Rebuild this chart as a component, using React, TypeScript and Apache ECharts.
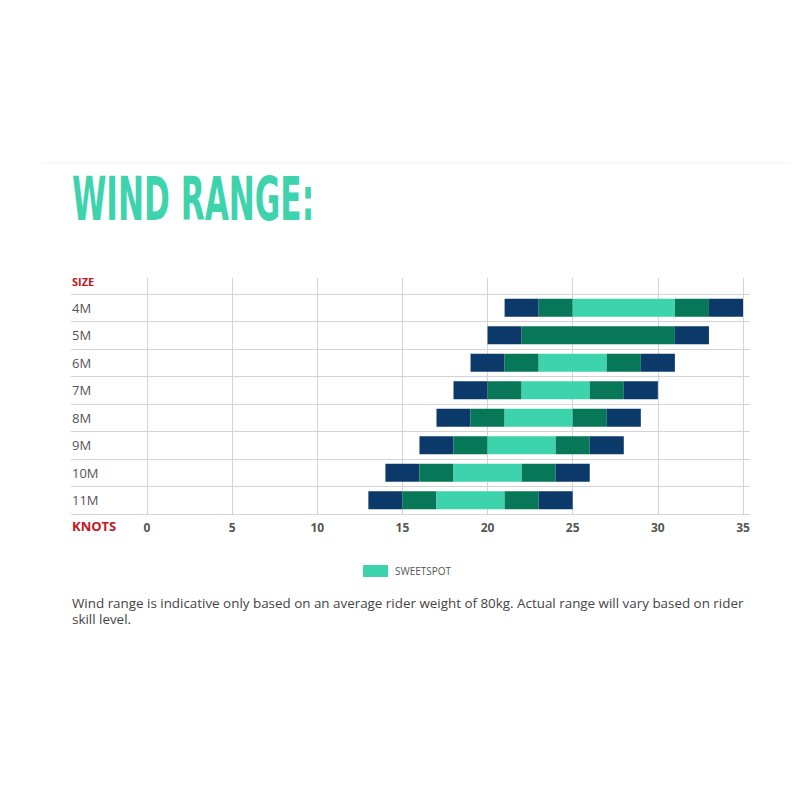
import React, { useEffect, useRef } from 'react'
import * as echarts from 'echarts'

// kite sizes, top to bottom
const sizes = ['4M', '5M', '6M', '7M', '8M', '9M', '10M', '11M']

// wind range boundaries in knots for each size
const minWind = [21, 20, 19, 18, 17, 16, 14, 13]
const greenFrom = [23, 22, 21, 20, 19, 18, 16, 15]
const sweetFrom = [25, 31, 23, 22, 21, 20, 18, 17]
const sweetTo = [31, 31, 27, 26, 25, 24, 22, 21]
const greenTo = [33, 31, 29, 28, 27, 26, 24, 23]
const maxWind = [35, 33, 31, 30, 29, 28, 26, 25]

const knotTicks = [0, 5, 10, 15, 20, 25, 30, 35]

const noteLines = [
  'Wind range is indicative only based on an average rider weight of 80kg. Actual range will vary based on rider',
  'skill level.'
]

const BLUE = '#0b3a6a'
const GREEN = '#067757'
const SWEET = '#3dd3ad'
const RED = '#c3161c'
const FONT = '"Open Sans", "DejaVu Sans", sans-serif'

const diff = (a: number[], b: number[]) => a.map((v, i) => v - b[i])

const App: React.FC = () => {
  const chartRef = useRef<HTMLDivElement>(null)

  useEffect(() => {
    if (!chartRef.current) return
    const chart = echarts.init(chartRef.current, undefined, { renderer: 'svg' })

    const bar = (name: string, data: number[], color: string) => ({
      name,
      type: 'bar',
      stack: 'wind',
      xAxisIndex: 2,
      yAxisIndex: 2,
      barWidth: 18,
      data,
      itemStyle: { color },
      emphasis: { disabled: true }
    })

    const option: any = {
      animation: false,
      backgroundColor: '#fff',
      textStyle: { fontFamily: FONT },
      grid: [
        // row lines, they run under the size labels
        { left: 71, right: 50, top: 294, bottom: 287 },
        // knot lines and labels, they reach up to the SIZE header
        { left: 147, right: 57, top: 278, bottom: 287 },
        // bars
        { left: 147, right: 57, top: 294, bottom: 287 }
      ],
      xAxis: [
        { gridIndex: 0, type: 'value', min: 0, max: 1, show: false },
        {
          gridIndex: 1,
          type: 'value',
          min: knotTicks[0],
          max: knotTicks[knotTicks.length - 1],
          interval: 5,
          axisLine: { show: false },
          axisTick: { show: false },
          axisLabel: { color: '#555', fontSize: 12, fontWeight: 'bold', margin: 7, fontFamily: FONT },
          splitLine: { show: true, lineStyle: { color: '#d4d4d4', width: 1 } }
        },
        { gridIndex: 2, type: 'value', min: 0, max: 35, show: false }
      ],
      yAxis: [
        {
          gridIndex: 0,
          type: 'category',
          data: sizes,
          inverse: true,
          axisLine: { show: false },
          axisTick: { show: false },
          axisLabel: { inside: true, margin: 1, color: '#555', fontSize: 13, fontFamily: FONT },
          splitLine: { show: true, lineStyle: { color: '#d4d4d4', width: 1 } }
        },
        { gridIndex: 1, type: 'value', show: false },
        { gridIndex: 2, type: 'category', data: sizes, inverse: true, show: false }
      ],
      legend: {
        data: ['SWEETSPOT'],
        left: 363,
        top: 565,
        padding: 0,
        icon: 'rect',
        itemWidth: 25,
        itemHeight: 12,
        selectedMode: false,
        textStyle: { color: '#555', fontSize: 10, fontFamily: FONT, padding: [0, 0, 0, 2] }
      },
      graphic: [
        {
          type: 'line',
          shape: { x1: 42, y1: 163, x2: 790, y2: 163 },
          style: { stroke: '#f1f1f1', lineWidth: 1 }
        },
        {
          type: 'text',
          x: 72,
          y: 200,
          scaleX: 0.577,
          style: {
            text: 'WIND RANGE:',
            fill: SWEET,
            fontSize: 60,
            fontWeight: 'bold',
            fontFamily: '"DejaVu Sans Condensed", "DejaVu Sans", sans-serif',
            verticalAlign: 'middle'
          }
        },
        {
          type: 'text',
          x: 72,
          y: 281,
          style: { text: 'SIZE', fill: RED, fontSize: 11, fontWeight: 'bold', fontFamily: FONT, verticalAlign: 'middle' }
        },
        {
          type: 'text',
          x: 72,
          y: 526,
          style: { text: 'KNOTS', fill: RED, fontSize: 13, fontWeight: 'bold', fontFamily: FONT, verticalAlign: 'middle' }
        },
        ...noteLines.map((line, i) => ({
          type: 'text',
          x: 72,
          y: 603 + i * 16,
          style: {
            text: line,
            fill: '#444',
            fontSize: 13.4,
            lineHeight: 15,
            fontFamily: FONT,
            verticalAlign: 'middle'
          }
        }))
      ],
      series: [
        {
          name: 'offset',
          type: 'bar',
          stack: 'wind',
          xAxisIndex: 2,
          yAxisIndex: 2,
          barWidth: 18,
          data: minWind,
          itemStyle: { color: 'transparent' },
          emphasis: { disabled: true }
        },
        bar('low', diff(greenFrom, minWind), BLUE),
        bar('lowGreen', diff(sweetFrom, greenFrom), GREEN),
        bar('SWEETSPOT', diff(sweetTo, sweetFrom), SWEET),
        bar('highGreen', diff(greenTo, sweetTo), GREEN),
        bar('high', diff(maxWind, greenTo), BLUE)
      ]
    }

    chart.setOption(option)

    return () => {
      chart.dispose()
    }
  }, [])

  return (
    <div
      ref={chartRef}
      style={{ position: 'fixed', left: 0, top: 0, width: '800px', height: '801px' }}
    />
  )
}

export default App
